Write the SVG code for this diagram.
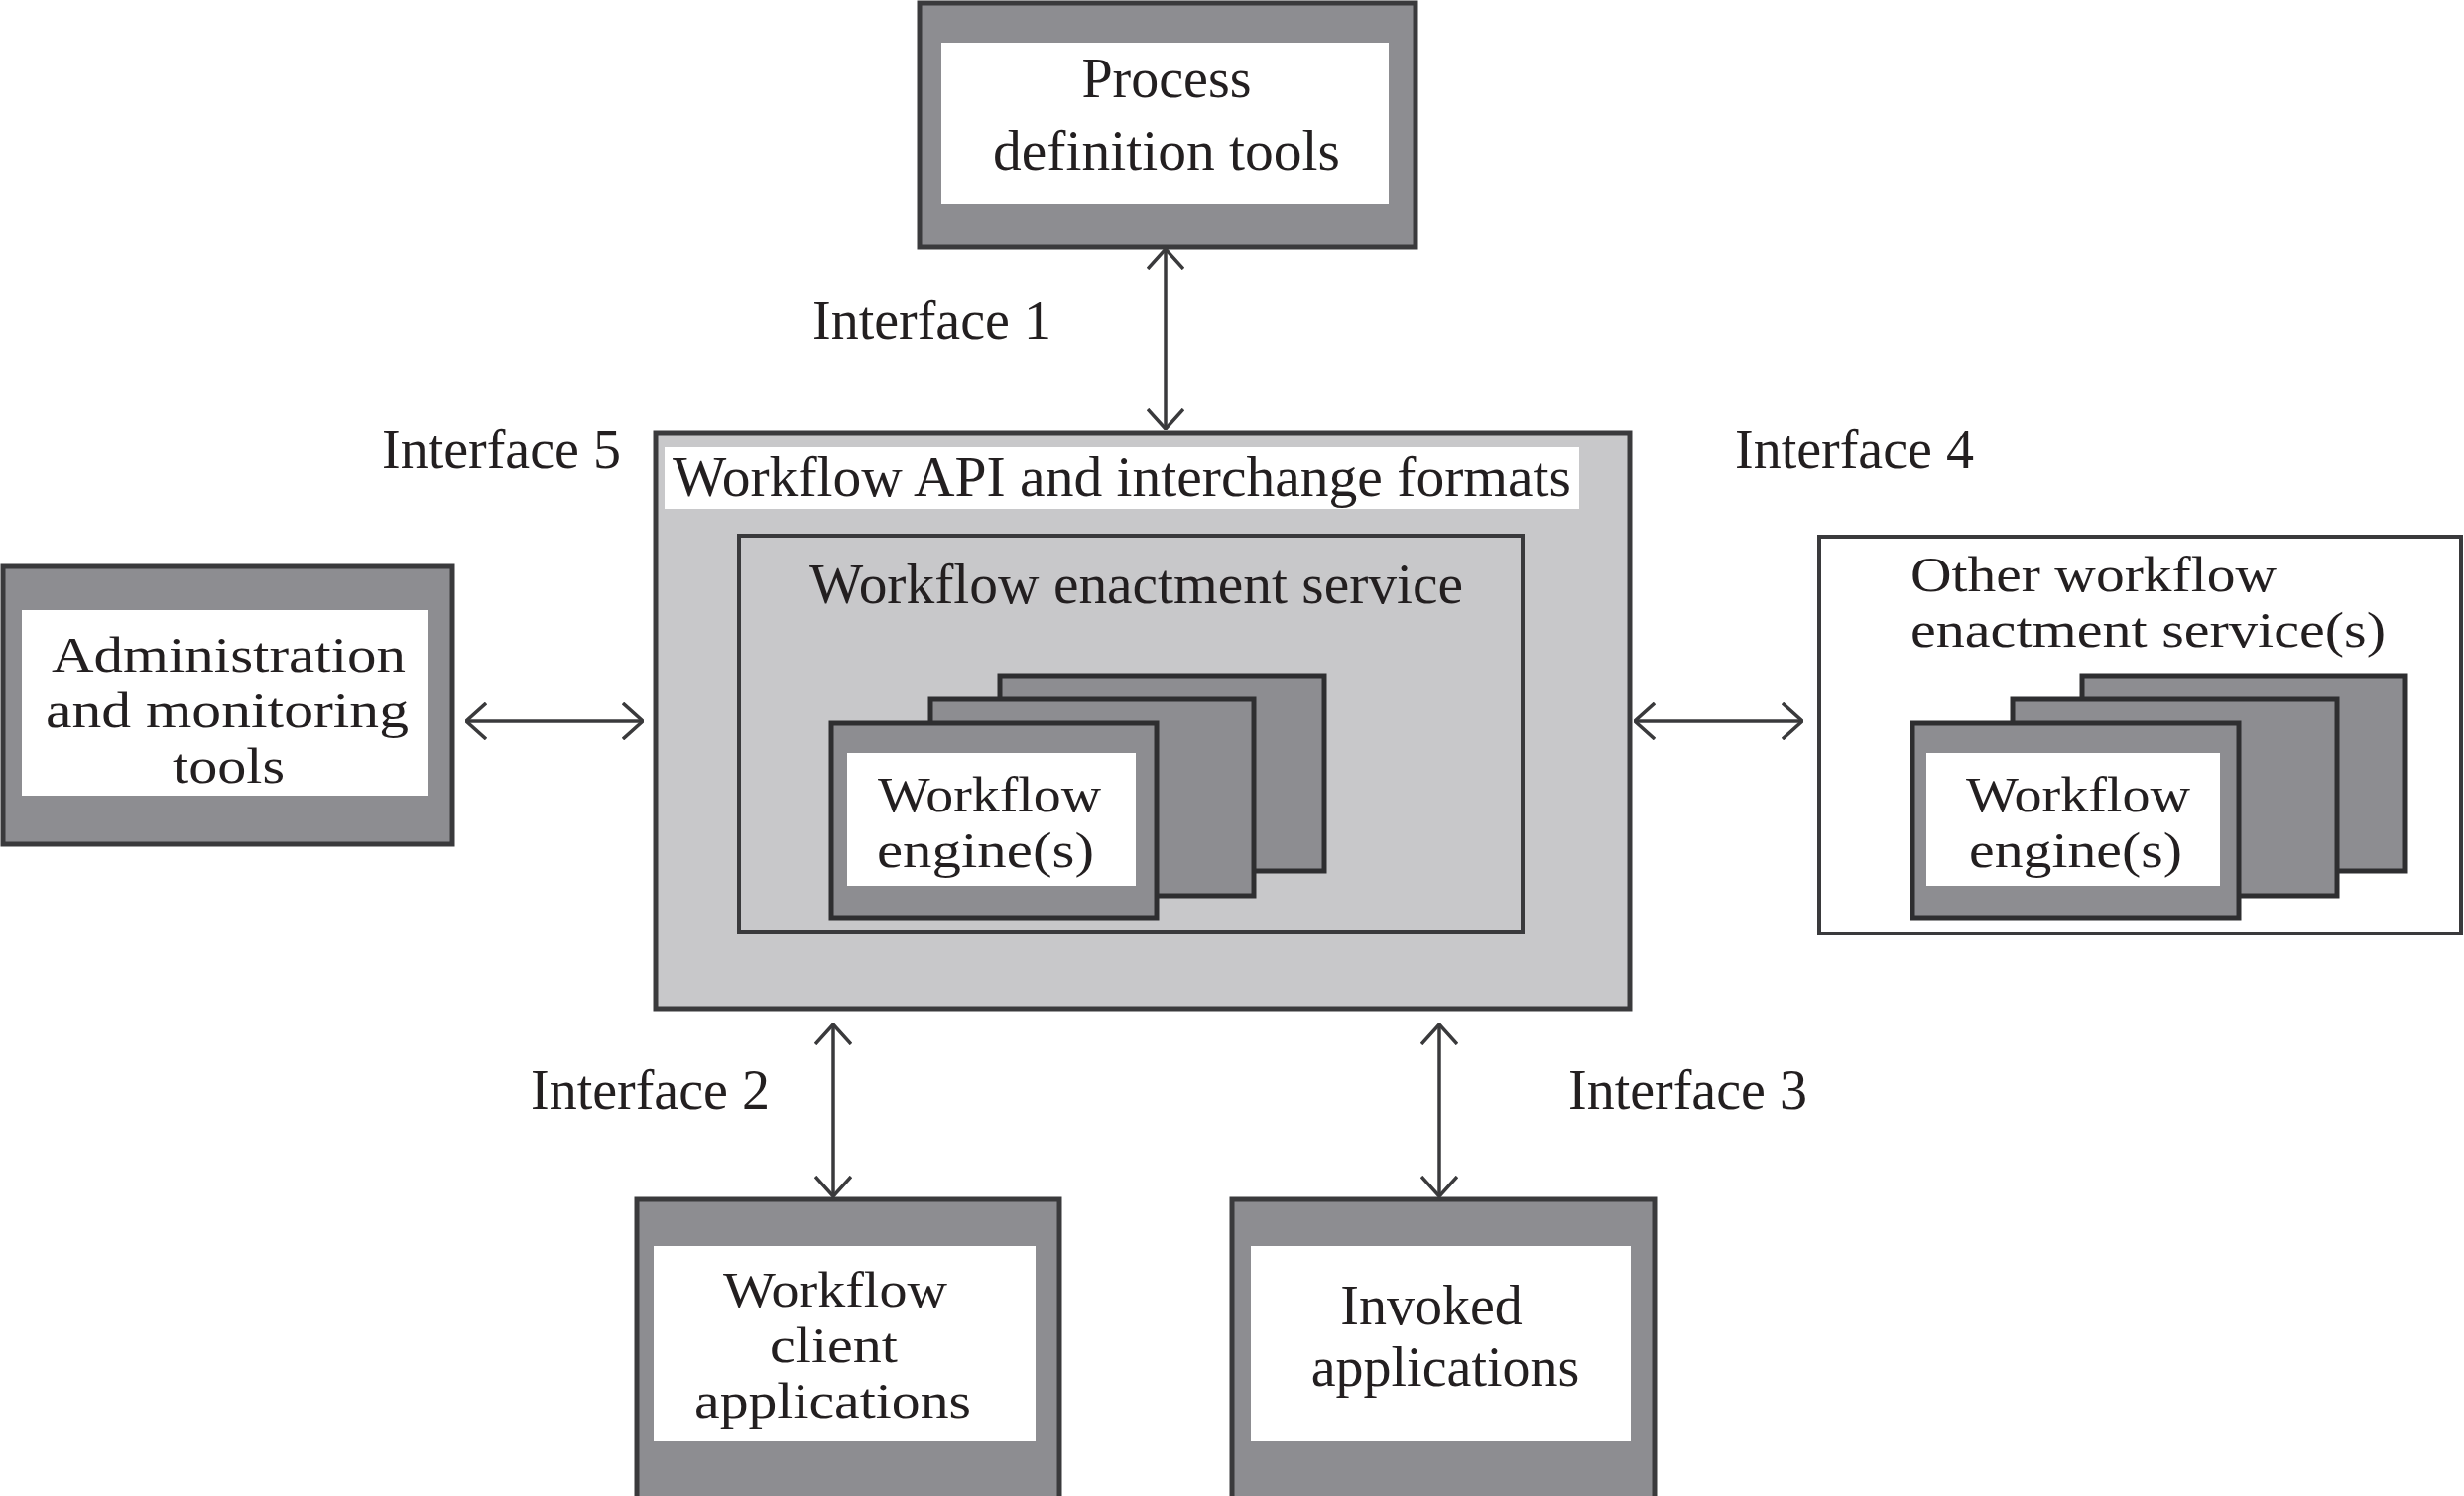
<svg xmlns="http://www.w3.org/2000/svg" width="2484" height="1508" viewBox="0 0 2484 1508">
<defs>
<style>
.dark{fill:#8d8d91;stroke:#3a3a3c;stroke-width:5}
.white{fill:#ffffff;stroke:none}
.light{fill:#c8c8ca;stroke:#3a3a3c;stroke-width:5}
.plain{fill:#ffffff;stroke:#3a3a3c;stroke-width:4}
.card{fill:#8d8d91;stroke:#2e2e30;stroke-width:5}
text{font-family:"Liberation Serif","Times New Roman",serif;font-size:56px;fill:#231f20}
.m{font-size:50px}
.c{text-anchor:middle}
.conn{stroke:#3a3a3c;stroke-width:3.5;fill:none;marker-start:url(#ah);marker-end:url(#ah)}
</style>
<marker id="ah" viewBox="0 0 22 38" refX="21" refY="19" markerWidth="22" markerHeight="38" orient="auto-start-reverse" markerUnits="userSpaceOnUse">
<path d="M1,1 L21,19 L1,37" fill="none" stroke="#3a3a3c" stroke-width="3.5"/>
</marker>
</defs>
<rect width="2484" height="1508" fill="#ffffff"/>

<g id="process-definition-tools">
<rect class="dark" x="927" y="3" width="500" height="246"/>
<rect class="white" x="949" y="43" width="451" height="163"/>
<text class="c" x="1176" y="98">Process</text>
<text class="c" x="1176" y="171" textLength="350" lengthAdjust="spacingAndGlyphs">definition tools</text>
</g>

<g id="workflow-api">
<rect class="light" x="661" y="436" width="982" height="581"/>
<rect class="white" x="670" y="451" width="922" height="62"/>
<text x="678" y="500" textLength="906" lengthAdjust="spacingAndGlyphs">Workflow API and interchange formats</text>
</g>

<g id="workflow-enactment-service">
<rect class="light" x="745" y="540" width="790" height="399" style="stroke-width:4"/>
<text x="816" y="608" textLength="659" lengthAdjust="spacingAndGlyphs">Workflow enactment service</text>
</g>

<g id="workflow-engines">
<rect class="card" x="1008" y="681" width="327" height="197"/>
<rect class="card" x="938" y="705" width="326" height="198"/>
<rect class="card" x="838" y="729" width="328" height="196"/>
<rect class="white" x="854" y="759" width="291" height="134"/>
<text class="m" x="885" y="818" textLength="225" lengthAdjust="spacingAndGlyphs">Workflow</text>
<text class="m" x="884" y="874" textLength="219" lengthAdjust="spacingAndGlyphs">engine(s)</text>
</g>

<g id="administration-monitoring-tools">
<rect class="dark" x="3" y="571" width="453" height="280"/>
<rect class="white" x="22" y="615" width="409" height="187"/>
<text class="m" x="52" y="677" textLength="357" lengthAdjust="spacingAndGlyphs">Administration</text>
<text class="m" x="46" y="733" textLength="366" lengthAdjust="spacingAndGlyphs">and monitoring</text>
<text class="m" x="174" y="789" textLength="113" lengthAdjust="spacingAndGlyphs">tools</text>
</g>

<g id="other-enactment-services">
<rect class="plain" x="1834" y="541" width="647" height="400"/>
<text class="m" x="1926" y="596" textLength="369" lengthAdjust="spacingAndGlyphs">Other workflow</text>
<text class="m" x="1926" y="652" textLength="479" lengthAdjust="spacingAndGlyphs">enactment service(s)</text>
<rect class="card" x="2099" y="681" width="326" height="197"/>
<rect class="card" x="2029" y="705" width="327" height="198"/>
<rect class="card" x="1928" y="729" width="329" height="196"/>
<rect class="white" x="1942" y="759" width="296" height="134"/>
<text class="m" x="1982" y="818" textLength="226" lengthAdjust="spacingAndGlyphs">Workflow</text>
<text class="m" x="1985" y="874" textLength="215" lengthAdjust="spacingAndGlyphs">engine(s)</text>
</g>

<g id="workflow-client-applications">
<rect class="dark" x="642" y="1209" width="426" height="302"/>
<rect class="white" x="659" y="1256" width="385" height="197"/>
<text class="m" x="729" y="1317" textLength="226" lengthAdjust="spacingAndGlyphs">Workflow</text>
<text class="m" x="776" y="1373" textLength="129" lengthAdjust="spacingAndGlyphs">client</text>
<text class="m" x="700" y="1429" textLength="279" lengthAdjust="spacingAndGlyphs">applications</text>
</g>

<g id="invoked-applications">
<rect class="dark" x="1242" y="1209" width="426" height="302"/>
<rect class="white" x="1261" y="1256" width="383" height="197"/>
<text class="c" x="1443" y="1335">Invoked</text>
<text class="c" x="1457" y="1397">applications</text>
</g>

<g id="connectors">
<line class="conn" x1="1175" y1="251" x2="1175" y2="432"/>
<line class="conn" x1="470" y1="727" x2="648" y2="727"/>
<line class="conn" x1="1648" y1="727" x2="1817" y2="727"/>
<line class="conn" x1="840" y1="1032" x2="840" y2="1206"/>
<line class="conn" x1="1451" y1="1032" x2="1451" y2="1206"/>
<text x="819" y="342">Interface 1</text>
<text x="385" y="472">Interface 5</text>
<text x="1749" y="472">Interface 4</text>
<text x="535" y="1118">Interface 2</text>
<text x="1581" y="1118">Interface 3</text>
</g>
</svg>
